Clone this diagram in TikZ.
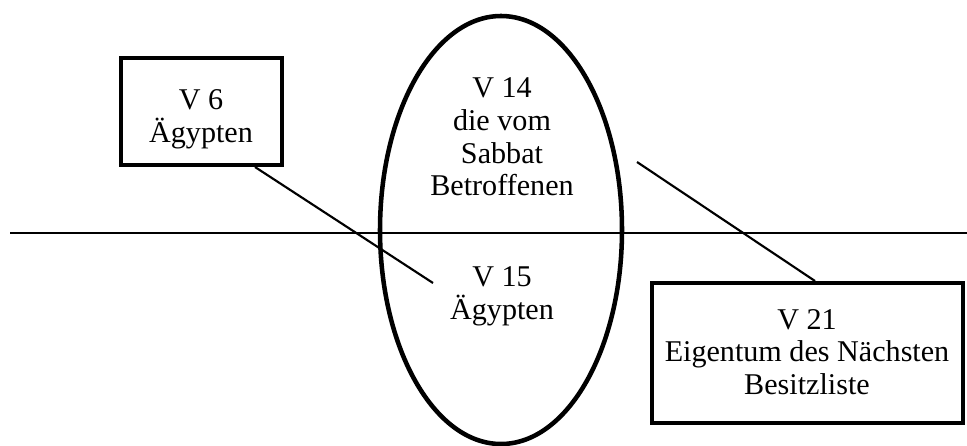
\documentclass[tikz,border=0pt]{standalone}
\usepackage{fontspec}
\setmainfont{Liberation Serif}
\begin{document}
\begin{tikzpicture}[x=0.75pt,y=-0.75pt,
  label/.style={align=center,font=\fontsize{22.6}{24.5}\selectfont,inner sep=0pt},
  frame/.style={draw,line width=3.4pt},
  link/.style={line width=1.6pt}]
\useasboundingbox (0,0) rectangle (967,446);
% horizontal divider
\draw[line width=1.8pt] (10,233) coordinate (hl) -- (967,233) coordinate (hr);
% central ellipse
\draw[line width=3.4pt] (501,230) ellipse [x radius=121, y radius=214];
% boxes
\draw[frame] (121,58) rectangle (282,165);
\draw[frame] (652,283) rectangle (963,423);
% texts
\node[label] (v6) at (201,119) {V 6\\Ägypten};
\node[label] (v14) at (502,137) {V 14\\die vom\\Sabbat\\Betroffenen};
\node[label] (v15) at (502,296) {V 15\\Ägypten};
\node[label] (v21) at (807,352) {V 21\\Eigentum des Nächsten\\Besitzliste};
% connectors
\coordinate (a1) at (255,167);
\coordinate (a2) at (433,283);
\coordinate (b1) at (637,162);
\coordinate (b2) at (815,281);
\draw[link] (a1) -- (a2);
\draw[link] (b1) -- (b2);
\end{tikzpicture}
\end{document}
